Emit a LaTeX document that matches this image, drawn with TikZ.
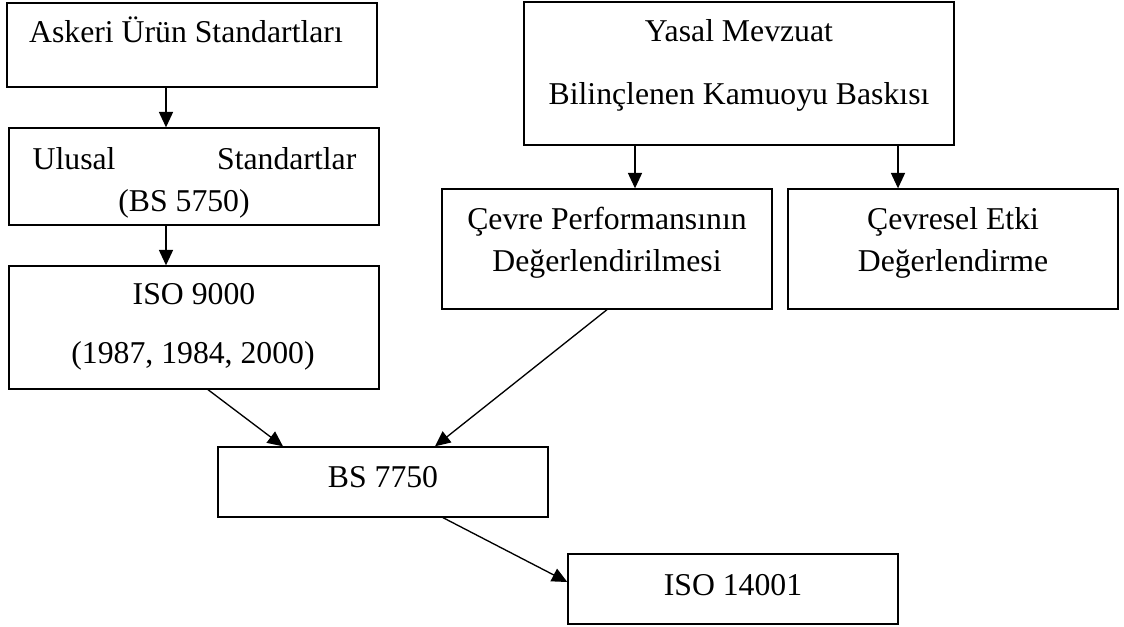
\documentclass[tikz,border=0pt]{standalone}
\usepackage{fontspec}
\setmainfont{Liberation Serif}
\usetikzlibrary{arrows.meta, positioning}
\tikzset{
	->, % Todas las lineas son flechas
	>={Triangle[length=11.5pt, width=10.5pt]}, % Punta triangular rellena
	caja/.style={draw, inner sep=0pt}, % Propiedades de las cajas
	texto/.style={anchor=base, inner sep=0pt, font=\fontsize{23.8}{28}\selectfont} % Texto de cada linea
}

\begin{document}
\begin{tikzpicture}[x=0.75pt, y=-0.75pt, line width=1pt]
	\useasboundingbox (0,0) rectangle (1124,627);
	% cajas
	\node[caja, minimum width=277.5pt, minimum height=63pt] (k1) at (192,45) {};
	\node[caja, minimum width=277.5pt, minimum height=72.75pt] (k2) at (194,176.5) {};
	\node[caja, minimum width=277.5pt, minimum height=92.25pt] (k3) at (194,327.5) {};
	\node[caja, minimum width=322.5pt, minimum height=107.25pt] (k4) at (739,73.5) {};
	\node[caja, minimum width=247.5pt, minimum height=90pt] (k5) at (607,249) {};
	\node[caja, minimum width=247.5pt, minimum height=90pt] (k6) at (953,249) {};
	\node[caja, minimum width=247.5pt, minimum height=52.5pt] (k7) at (383,482) {};
	\node[caja, minimum width=247.5pt, minimum height=52.5pt] (k8) at (733,589) {};
	% textos
	\node[texto] (t1) at (186,43) {Askeri Ürün Standartları};
	\node[texto, anchor=base west] (t2a) at (32,170) {Ulusal};
	\node[texto, anchor=base east] (t2b) at (357,170) {Standartlar};
	\node[texto] (t2c) at (184,212) {(BS 5750)};
	\node[texto] (t3a) at (194,305) {ISO 9000};
	\node[texto] (t3b) at (193,363) {(1987, 1984, 2000)};
	\node[texto] (t4a) at (739,42) {Yasal Mevzuat};
	\node[texto] (t4b) at (739,105) {Bilinçlenen Kamuoyu Baskısı};
	\node[texto] (t5a) at (607,230) {Çevre Performansının};
	\node[texto] (t5b) at (607,272) {Değerlendirilmesi};
	\node[texto] (t6a) at (953,230) {Çevresel Etki};
	\node[texto] (t6b) at (953,272) {Değerlendirme};
	\node[texto] (t7) at (383,487) {BS 7750};
	\node[texto] (t8) at (733,595) {ISO 14001};
	% flechas
	\path	([xshift=-19.5pt]k1.south) edge ([xshift=-19.5pt]k1.south |- k2.north)
			([xshift=-21pt]k2.south) edge ([xshift=-21pt]k2.south |- k3.north)
			([xshift=-78pt]k4.south) edge ([xshift=-78pt]k4.south |- k5.north)
			([xshift=119.25pt]k4.south) edge ([xshift=119.25pt]k4.south |- k6.north)
			([xshift=10.5pt]k3.south) edge ([xshift=-75pt]k7.north)
			(k5.south) edge ([xshift=39pt]k7.north)
			([xshift=45pt]k7.south) edge ([yshift=5.25pt]k8.west);
\end{tikzpicture}
\end{document}
